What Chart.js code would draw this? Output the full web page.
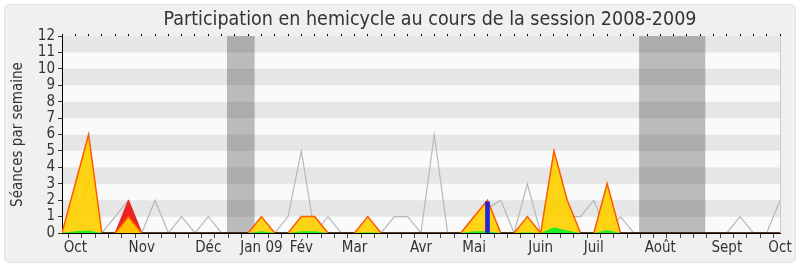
<!DOCTYPE html>
<html>
<head>
<meta charset="utf-8">
<script src="https://cdn.jsdelivr.net/npm/chart.js@4"></script>
<style>
  html, body { margin: 0; background: #fff; }
</style>
</head>
<body>
<canvas id="graph" width="800" height="267"></canvas>
<script>
const titre = 'Participation en hemicycle au cours de la session 2008-2009'
const moisLabels = ['Oct', 'Nov', 'Déc', 'Jan 09', 'Fév', 'Mar', 'Avr', 'Mai', 'Juin', 'Juil', 'Août', 'Sept', 'Oct']
const moisSemaines = [1, 6, 11, 15, 18, 22, 27, 31, 36, 40, 45, 50, 54]

// séances par semaine (une valeur par semaine, 55 semaines)
const presences = [0, 3, 6, 0, 0, 1, 0, 0, 0, 0, 0, 0, 0, 0, 0, 1, 0, 0, 1, 1, 0, 0, 0, 1, 0, 0, 0, 0, 0, 0, 0, 1, 2, 0, 0, 1, 0, 5, 2, 0, 0, 3, 0, 0, 0, 0, 0, 0, 0, 0, 0, 0, 0, 0, 0]
const presencesRouge = [0, 0, 0, 0, 0, 2, 0, 0, 0, 0, 0, 0, 0, 0, 0, 0, 0, 0, 0, 0, 0, 0, 0, 0, 0, 0, 0, 0, 0, 0, 0, 0, 0, 0, 0, 0, 0, 0, 0, 0, 0, 0, 0, 0, 0, 0, 0, 0, 0, 0, 0, 0, 0, 0, 0]
const interventions = [0, 0.1, 0.15, 0, 0, 0, 0, 0, 0, 0, 0, 0, 0, 0, 0, 0.1, 0, 0, 0.1, 0.1, 0, 0, 0, 0.05, 0, 0, 0, 0, 0, 0, 0, 0.1, 0.1, 0, 0, 0.05, 0, 0.35, 0.15, 0, 0, 0.18, 0, 0, 0, 0, 0, 0, 0, 0, 0, 0, 0, 0, 0]
const mediane = [0, 1, 3, 0, 1, 2, 0, 2, 0, 1, 0, 1, 0, 0, 0, 0, 0, 1, 5, 0, 1, 0, 0, 0, 0, 1, 1, 0, 6, 0, 0, 1, 1.5, 2, 0, 3, 0, 2, 1, 1, 2, 0, 1, 0, 0, 0, 0, 0, 0, 0, 0, 1, 0, 0, 2]
const questionsSemaines = [32]
const questionsValeurs = [1.9]
const vacancesDebut = [12.4, 43.4]
const vacancesFin = [14.5, 48.4]

const police = "'DejaVu Sans Condensed', 'DejaVu Sans', sans-serif"
const parSemaine = (arr) => arr.map((v, i) => ({ x: i, y: v }))
// pas de bordure colorée le long de la ligne du zéro
const horsZero = (couleur) => (ctx) => (ctx.p0.parsed.y === 0 && ctx.p1.parsed.y === 0 ? '#3a1a0a' : couleur)

const fond = {
	id: 'fond',
	beforeDraw(chart) {
		const { ctx, chartArea: a, scales: { y } } = chart
		ctx.save()
		ctx.fillStyle = '#fff'
		ctx.fillRect(0, 0, chart.width, chart.height)
		ctx.fillStyle = '#f0f0f0'
		ctx.strokeStyle = '#e2e2e2'
		ctx.beginPath()
		ctx.roundRect(4.5, 4.5, chart.width - 9, chart.height - 9, 5)
		ctx.fill()
		ctx.stroke()
		for (let v = 0; v < 12; v++) {
			ctx.fillStyle = v % 2 ? '#e6e6e6' : '#fafafa'
			const top = y.getPixelForValue(v + 1)
			ctx.fillRect(a.left, top, a.right - a.left, y.getPixelForValue(v) - top)
		}
		ctx.strokeStyle = '#cccccc'
		ctx.beginPath()
		ctx.moveTo(a.right + 0.5, a.top)
		ctx.lineTo(a.right + 0.5, a.bottom)
		ctx.stroke()
		ctx.restore()
	},
	afterDraw(chart) {
		const { ctx } = chart
		ctx.save()
		ctx.fillStyle = '#333'
		ctx.font = '19.5px ' + police
		ctx.textAlign = 'center'
		ctx.textBaseline = 'middle'
		ctx.fillText(titre, 430, 20)
		ctx.restore()
	},
}

const vacances = vacancesDebut.map((d, i) => ({
	data: [{ x: d, y: 12 }, { x: vacancesFin[i], y: 12 }],
	fill: 'origin',
	backgroundColor: 'rgba(0,0,0,0.25)',
	borderWidth: 0,
}))

new Chart(document.getElementById('graph'), {
	type: 'line',
	data: {
		datasets: [
			{
				type: 'bar',
				data: questionsSemaines.map((s, i) => ({ x: s, y: questionsValeurs[i] })),
				backgroundColor: '#2323dd',
				barThickness: 4,
				borderWidth: 0,
			},
			{ data: parSemaine(interventions), fill: 'origin', backgroundColor: '#22ee22', borderWidth: 0 },
			{
				data: parSemaine(presences),
				fill: 'origin',
				backgroundColor: 'rgba(255,208,0,0.92)',
				borderColor: '#ff5a00',
				borderWidth: 1.5,
				segment: { borderColor: horsZero('#ff5a00') },
			},
			{
				data: parSemaine(presencesRouge),
				fill: 'origin',
				backgroundColor: '#ee2222',
				borderColor: '#ee2222',
				borderWidth: 1,
				segment: { borderColor: horsZero('#ee2222') },
			},
			{ data: parSemaine(mediane), fill: false, borderColor: '#b8b8b8', borderWidth: 1.2 },
			...vacances,
		],
	},
	options: {
		responsive: false,
		animation: false,
		events: [],
		layout: { padding: { top: 36, right: 20, bottom: 0, left: 0 } },
		elements: { point: { radius: 0 }, line: { tension: 0 } },
		plugins: { legend: { display: false }, tooltip: { enabled: false } },
		scales: {
			x: {
				type: 'linear',
				min: 0,
				max: 54,
				offset: false,
				afterFit: (s) => { s.height = 34 },
				ticks: {
					stepSize: 1,
					autoSkip: false,
					maxRotation: 0,
					maxTicksLimit: 100,
					padding: 1,
					color: '#333',
					font: { family: police, size: 15 },
					callback: (v) => {
						const i = moisSemaines.indexOf(v)
						return i >= 0 ? moisLabels[i] : ''
					},
				},
				grid: { drawOnChartArea: false, tickLength: 5, color: '#444' },
				border: { color: '#000' },
			},
			haut: {
				type: 'linear',
				position: 'top',
				min: 0,
				max: 54,
				afterFit: (s) => { s.height = 0 },
				ticks: { display: false, stepSize: 1, maxTicksLimit: 100 },
				grid: { drawOnChartArea: false, tickLength: 2, color: '#000' },
				border: { display: false },
			},
			y: {
				min: 0,
				max: 12,
				afterFit: (s) => { s.width = 62 },
				ticks: { stepSize: 1, autoSkip: false, padding: 3, color: '#333', font: { family: police, size: 15 } },
				grid: { drawOnChartArea: false, tickLength: 4, color: '#333' },
				border: { color: '#000' },
				title: {
					display: true,
					text: 'Séances par semaine',
					color: '#333',
					font: { family: police, size: 15 },
					padding: { top: 9, bottom: 0 },
				},
			},
		},
	},
	plugins: [fond],
})
</script>
</body>
</html>
